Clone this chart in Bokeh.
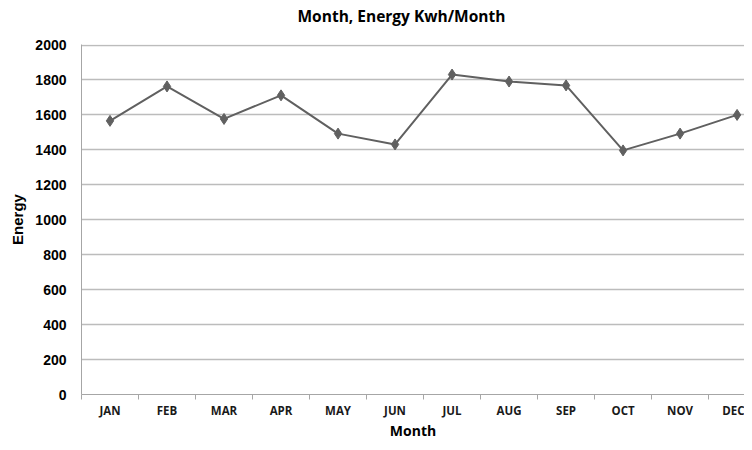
from bokeh.plotting import figure
from bokeh.models import Range1d, FixedTicker, Title, LinearAxis
from bokeh.embed import file_html
from bokeh.resources import INLINE

months = ["JAN", "FEB", "MAR", "APR", "MAY", "JUN", "JUL", "AUG", "SEP", "OCT", "NOV", "DEC"]
energy = [1566, 1763, 1577, 1712, 1493, 1431, 1831, 1791, 1769, 1397, 1493, 1600]
y_ticks = [0, 200, 400, 600, 800, 1000, 1200, 1400, 1600, 1800, 2000]

xs = list(range(len(months)))

p = figure(width=744, height=442, output_backend="svg", toolbar_location=None,
           x_range=Range1d(-0.5, 11.13), y_range=Range1d(0, 2003),
           min_border_left=81, min_border_right=0, min_border_top=43, min_border_bottom=44)
p.background_fill_color = "white"
p.border_fill_color = "white"
p.outline_line_color = None

xa = p.below[0]
ya = p.left[0]

p.title = Title(text="Month, Energy Kwh/Month", align="left", offset=216, standoff=8,
                vertical_align="top",
                text_font="Open Sans", text_font_size="15.5px", text_font_style="bold",
                text_color="#000000")

# invisible spacer axis between the title and the plot area
spacer = LinearAxis(ticker=FixedTicker(ticks=[xs[0]], minor_ticks=[]),
                    major_label_overrides={xs[0]: ""},
                    major_tick_out=12, major_tick_in=0, major_label_standoff=0,
                    major_label_text_font_size="1px", major_label_text_color=None,
                    axis_line_color=None, major_tick_line_color=None,
                    minor_tick_line_color=None)
p.add_layout(spacer, "above")

p.line(xs, energy, line_color="#606060", line_width=2)
p.scatter(xs, energy, marker="diamond", size=11, fill_color="#606060", line_color="#606060")

# x axis
xa.ticker = FixedTicker(ticks=xs, minor_ticks=[i - 0.5 for i in range(len(months) + 1)])
xa.major_label_overrides = {i: m for i, m in enumerate(months)}
xa.major_tick_in = 0
xa.major_tick_out = 0
xa.minor_tick_in = 0
xa.minor_tick_out = 5
xa.minor_tick_line_color = "#a6a6a6"
xa.axis_line_color = "#a6a6a6"
xa.major_label_text_font = "Open Sans"
xa.major_label_text_font_style = "bold"
xa.major_label_text_font_size = "11.5px"
xa.major_label_text_color = "#1a1a1a"
xa.major_label_standoff = 3
xa.axis_label = "Month"
xa.axis_label_text_font = "Open Sans"
xa.axis_label_text_font_style = "bold"
xa.axis_label_text_font_size = "14px"
xa.axis_label_text_color = "#000000"
xa.axis_label_standoff = 0

# y axis
ya.ticker = FixedTicker(ticks=y_ticks, minor_ticks=[])
ya.major_tick_in = 0
ya.major_tick_out = 0
ya.axis_line_color = "#a6a6a6"
ya.major_label_text_font = "Liberation Sans"
ya.major_label_text_font_style = "bold"
ya.major_label_text_font_size = "14px"
ya.major_label_text_color = "#000000"
ya.major_label_standoff = 15
ya.axis_label = "Energy"
ya.axis_label_text_font = "Liberation Sans"
ya.axis_label_text_font_style = "bold"
ya.axis_label_text_font_size = "15px"
ya.axis_label_text_color = "#000000"
ya.axis_label_standoff = 6

p.xgrid.grid_line_color = None
p.ygrid.ticker = FixedTicker(ticks=y_ticks)
p.ygrid.grid_line_color = "#bcbcbc"
p.ygrid.grid_line_width = 1.3

open("out.html", "w").write(file_html(p, INLINE))
